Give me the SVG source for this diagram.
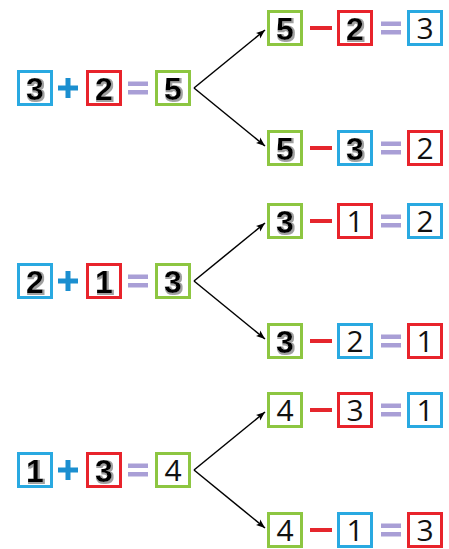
<svg xmlns="http://www.w3.org/2000/svg" width="449" height="549" viewBox="0 0 449 549">
<defs>
<style>
.bx{fill:#fff;stroke-width:3}
.blue{stroke:#29a9e1}.red{stroke:#e8232b}.green{stroke:#8dc641}
.bd{font-family:"Liberation Sans",Arial,sans-serif;font-weight:bold;font-size:32px;fill:#000;text-anchor:middle;filter:url(#sh)}
.rg{font-family:"Open Sans","Liberation Sans",sans-serif;font-size:30px;fill:#111;text-anchor:middle}
.plus{fill:#1b8fd0}.minus{fill:#e5262d}.eq{fill:#a99fd6}
.ln{stroke:#000;stroke-width:1.5;fill:none;marker-end:url(#ah)}
</style>
<filter id="sh" x="-20%" y="-20%" width="150%" height="150%">
<feMorphology in="SourceAlpha" operator="dilate" radius="0.6" result="d"/>
<feOffset in="d" dx="1.2" dy="1.2" result="o"/>
<feFlood flood-color="#a0a0a0"/>
<feComposite in2="o" operator="in" result="s"/>
<feMerge><feMergeNode in="s"/><feMergeNode in="SourceGraphic"/></feMerge>
</filter>
<marker id="ah" markerWidth="10" markerHeight="8" refX="9" refY="4" orient="auto" markerUnits="userSpaceOnUse">
<path d="M0,0.5 L9,4 L0,7.5 L2,4 Z" fill="#000"/>
</marker>
</defs>
<rect width="449" height="549" fill="#fff"/>

<g id="connectors">
<line class="ln" x1="194" y1="88" x2="265" y2="30"/>
<line class="ln" x1="194" y1="88" x2="265" y2="146"/>
<line class="ln" x1="194" y1="281" x2="265" y2="223"/>
<line class="ln" x1="194" y1="281" x2="265" y2="339"/>
<line class="ln" x1="194" y1="470" x2="265" y2="412"/>
<line class="ln" x1="194" y1="470" x2="265" y2="528"/>
</g>

<!-- Group A -->
<g id="a-l1"><rect class="bx blue" x="18.5" y="71.5" width="33" height="33"/><text class="bd" x="35" y="99.5">3</text></g>
<g id="a-plus"><rect class="plus" x="58" y="85.5" width="20" height="5"/><rect class="plus" x="65.5" y="78" width="5" height="20"/></g>
<g id="a-l2"><rect class="bx red" x="87.5" y="71.5" width="33" height="33"/><text class="bd" x="104" y="99.5">2</text></g>
<g id="a-eq"><rect class="eq" x="128" y="81.5" width="20" height="4.5"/><rect class="eq" x="128" y="90" width="20" height="4.5"/></g>
<g id="a-l3"><rect class="bx green" x="156.5" y="71.5" width="33" height="33"/><text class="bd" x="173" y="99.5">5</text></g>

<g id="a-t1"><rect class="bx green" x="268.5" y="11.5" width="33" height="33"/><text class="bd" x="285" y="39.5">5</text></g>
<g id="a-tm"><rect class="minus" x="310" y="26" width="22" height="4"/></g>
<g id="a-t2"><rect class="bx red" x="338.5" y="11.5" width="33" height="33"/><text class="bd" x="355" y="39.5">2</text></g>
<g id="a-te"><rect class="eq" x="381" y="21.5" width="20" height="4.5"/><rect class="eq" x="381" y="30" width="20" height="4.5"/></g>
<g id="a-t3"><rect class="bx blue" x="408.5" y="11.5" width="33" height="33"/><text class="rg" x="425" y="39">3</text></g>

<g id="a-b1"><rect class="bx green" x="268.5" y="131.5" width="33" height="33"/><text class="bd" x="285" y="159.5">5</text></g>
<g id="a-bm"><rect class="minus" x="310" y="146" width="22" height="4"/></g>
<g id="a-b2"><rect class="bx blue" x="338.5" y="131.5" width="33" height="33"/><text class="bd" x="355" y="159.5">3</text></g>
<g id="a-be"><rect class="eq" x="381" y="141.5" width="20" height="4.5"/><rect class="eq" x="381" y="150" width="20" height="4.5"/></g>
<g id="a-b3"><rect class="bx red" x="408.5" y="131.5" width="33" height="33"/><text class="rg" x="425" y="159">2</text></g>

<!-- Group B -->
<g id="b-l1"><rect class="bx blue" x="18.5" y="264.5" width="33" height="33"/><text class="bd" x="35" y="292.5">2</text></g>
<g id="b-plus"><rect class="plus" x="58" y="278.5" width="20" height="5"/><rect class="plus" x="65.5" y="271" width="5" height="20"/></g>
<g id="b-l2"><rect class="bx red" x="87.5" y="264.5" width="33" height="33"/><text class="bd" x="104" y="292.5">1</text></g>
<g id="b-eq"><rect class="eq" x="128" y="274.5" width="20" height="4.5"/><rect class="eq" x="128" y="283" width="20" height="4.5"/></g>
<g id="b-l3"><rect class="bx green" x="156.5" y="264.5" width="33" height="33"/><text class="bd" x="173" y="292.5">3</text></g>

<g id="b-t1"><rect class="bx green" x="268.5" y="204.5" width="33" height="33"/><text class="bd" x="285" y="232.5">3</text></g>
<g id="b-tm"><rect class="minus" x="310" y="219" width="22" height="4"/></g>
<g id="b-t2"><rect class="bx red" x="338.5" y="204.5" width="33" height="33"/><text class="rg" x="355" y="232">1</text></g>
<g id="b-te"><rect class="eq" x="381" y="214.5" width="20" height="4.5"/><rect class="eq" x="381" y="223" width="20" height="4.5"/></g>
<g id="b-t3"><rect class="bx blue" x="408.5" y="204.5" width="33" height="33"/><text class="rg" x="425" y="232">2</text></g>

<g id="b-b1"><rect class="bx green" x="268.5" y="324.5" width="33" height="33"/><text class="bd" x="285" y="352.5">3</text></g>
<g id="b-bm"><rect class="minus" x="310" y="339" width="22" height="4"/></g>
<g id="b-b2"><rect class="bx blue" x="338.5" y="324.5" width="33" height="33"/><text class="rg" x="355" y="352">2</text></g>
<g id="b-be"><rect class="eq" x="381" y="334.5" width="20" height="4.5"/><rect class="eq" x="381" y="343" width="20" height="4.5"/></g>
<g id="b-b3"><rect class="bx red" x="408.5" y="324.5" width="33" height="33"/><text class="rg" x="425" y="352">1</text></g>

<!-- Group C -->
<g id="c-l1"><rect class="bx blue" x="18.5" y="453.5" width="33" height="33"/><text class="bd" x="35" y="481.5">1</text></g>
<g id="c-plus"><rect class="plus" x="58" y="467.5" width="20" height="5"/><rect class="plus" x="65.5" y="460" width="5" height="20"/></g>
<g id="c-l2"><rect class="bx red" x="87.5" y="453.5" width="33" height="33"/><text class="bd" x="104" y="481.5">3</text></g>
<g id="c-eq"><rect class="eq" x="128" y="463.5" width="20" height="4.5"/><rect class="eq" x="128" y="472" width="20" height="4.5"/></g>
<g id="c-l3"><rect class="bx green" x="156.5" y="453.5" width="33" height="33"/><text class="rg" x="173" y="481">4</text></g>

<g id="c-t1"><rect class="bx green" x="268.5" y="393.5" width="33" height="33"/><text class="rg" x="285" y="421">4</text></g>
<g id="c-tm"><rect class="minus" x="310" y="408" width="22" height="4"/></g>
<g id="c-t2"><rect class="bx red" x="338.5" y="393.5" width="33" height="33"/><text class="rg" x="355" y="421">3</text></g>
<g id="c-te"><rect class="eq" x="381" y="403.5" width="20" height="4.5"/><rect class="eq" x="381" y="412" width="20" height="4.5"/></g>
<g id="c-t3"><rect class="bx blue" x="408.5" y="393.5" width="33" height="33"/><text class="rg" x="425" y="421">1</text></g>

<g id="c-b1"><rect class="bx green" x="268.5" y="513.5" width="33" height="33"/><text class="rg" x="285" y="541">4</text></g>
<g id="c-bm"><rect class="minus" x="310" y="528" width="22" height="4"/></g>
<g id="c-b2"><rect class="bx blue" x="338.5" y="513.5" width="33" height="33"/><text class="rg" x="355" y="541">1</text></g>
<g id="c-be"><rect class="eq" x="381" y="523.5" width="20" height="4.5"/><rect class="eq" x="381" y="532" width="20" height="4.5"/></g>
<g id="c-b3"><rect class="bx red" x="408.5" y="513.5" width="33" height="33"/><text class="rg" x="425" y="541">3</text></g>
</svg>
